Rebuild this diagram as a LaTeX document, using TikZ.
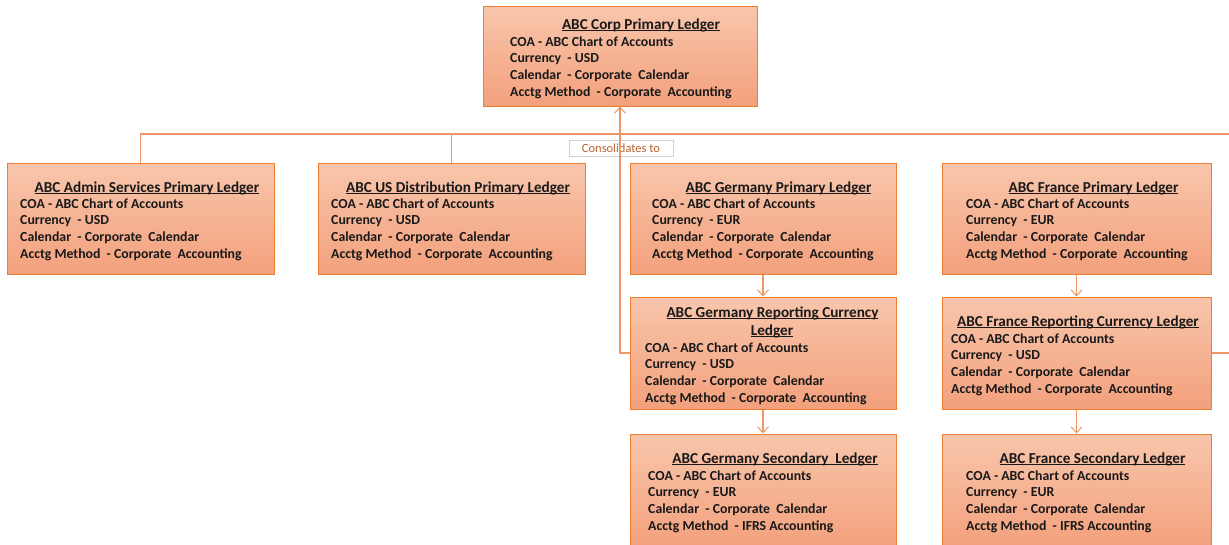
\documentclass[tikz,border=0pt]{standalone}
\usepackage{fontspec}
\setmainfont{Carlito}
\usetikzlibrary{arrows.meta}
\definecolor{bordr}{RGB}{237,125,49}
\definecolor{conn}{RGB}{240,150,100}
\definecolor{ftop}{RGB}{248,198,172}
\definecolor{fbot}{RGB}{243,160,124}
\definecolor{txt}{RGB}{25,25,25}
\definecolor{lbl}{RGB}{185,100,50}
\newlength\ulw
\newcommand\uln[1]{\settowidth\ulw{#1}\rlap{\rule[-1.7pt]{\ulw}{0.9pt}}#1}
\tikzset{
  lbox/.style={draw=bordr, line width=1pt, top color=ftop, bottom color=fbot, inner sep=0pt},
  ttl/.style={font=\fontsize{15.2}{17}\selectfont\bfseries, text=txt, inner sep=0pt, anchor=center},
  btxt/.style={font=\fontsize{13.8}{17}\selectfont\bfseries, text=txt, inner sep=0pt, anchor=west},
  cline/.style={draw=conn, line width=1.2pt},
  carrow/.style={cline, -{Straight Barb[length=6pt,width=11pt,line width=1pt]}},
  lblbox/.style={draw=black!18, fill=white, line width=0.6pt, font=\fontsize{12.5}{14}\selectfont, text=lbl, minimum width=104pt, minimum height=16pt, inner sep=0pt}
}
\newcommand\blines[7]{%
  \node[btxt] (#1-1) at (#2,#3) {#4};
  \node[btxt] (#1-2) at (#2,#3+17) {#5};
  \node[btxt] (#1-3) at (#2,#3+34) {#6};
  \node[btxt] (#1-4) at (#2,#3+51) {#7};
}
\newcommand\lgcal{Calendar\ \ - Corporate\ \ Calendar}
\newcommand\lgacc{Acctg Method\ \ - Corporate\ \ Accounting}
\newcommand\lgifrs{Acctg Method\ \ - IFRS Accounting}
\newcommand\lgcoa{COA - ABC Chart of Accounts}
\begin{document}
\begin{tikzpicture}[x=1pt,y=-1pt]
\useasboundingbox (0,0) rectangle (1229,544);
\clip (0,0) rectangle (1229,544);
\fill[white] (0,0) rectangle (1229,544);
% boxes
\node[lbox, minimum width=274pt, minimum height=100pt] (corp) at (620,56) {};
\node[lbox, minimum width=267pt, minimum height=111pt] (adm) at (140.5,218.5) {};
\node[lbox, minimum width=267pt, minimum height=111pt] (usd) at (451.5,218.5) {};
\node[lbox, minimum width=266pt, minimum height=111pt] (dep) at (763,218.5) {};
\node[lbox, minimum width=269pt, minimum height=111pt] (frp) at (1076.5,218.5) {};
\node[lbox, minimum width=266pt, minimum height=112pt] (der) at (763,353) {};
\node[lbox, minimum width=269pt, minimum height=112pt] (frr) at (1076.5,353) {};
\node[lbox, minimum width=266pt, minimum height=114pt] (des) at (763,491) {};
\node[lbox, minimum width=269pt, minimum height=114pt] (frs) at (1076.5,491) {};
% texts
\node[ttl] (corp-t) at (641,25) {\uln{ABC Corp Primary Ledger}};
\blines{corp}{510}{42}{\lgcoa}{Currency\ \ - USD}{\lgcal}{\lgacc}
\node[ttl] (adm-t) at (147,188) {\uln{ABC Admin Services Primary Ledger}};
\blines{adm}{20}{204}{\lgcoa}{Currency\ \ - USD}{\lgcal}{\lgacc}
\node[ttl] (usd-t) at (458,188) {\uln{ABC US Distribution Primary Ledger}};
\blines{usd}{331}{204}{\lgcoa}{Currency\ \ - USD}{\lgcal}{\lgacc}
\node[ttl] (dep-t) at (778.5,188) {\uln{ABC Germany Primary Ledger}};
\blines{dep}{652}{204}{\lgcoa}{Currency\ \ - EUR}{\lgcal}{\lgacc}
\node[ttl] (frp-t) at (1093.5,188) {\uln{ABC France Primary Ledger}};
\blines{frp}{966}{204}{\lgcoa}{Currency\ \ - EUR}{\lgcal}{\lgacc}
\node[ttl] (der-t) at (772.5,313) {\uln{ABC Germany Reporting Currency}};
\node[ttl] (der-t2) at (772,331) {\uln{Ledger}};
\blines{der}{645}{348}{\lgcoa}{Currency\ \ - USD}{\lgcal}{\lgacc}
\node[ttl] (frr-t) at (1078,322) {\uln{ABC France Reporting Currency Ledger}};
\blines{frr}{951}{339}{\lgcoa}{Currency\ \ - USD}{\lgcal}{\lgacc}
\node[ttl] (des-t) at (775,459) {\uln{ABC Germany Secondary\ \ Ledger}};
\blines{des}{648}{476}{\lgcoa}{Currency\ \ - EUR}{\lgcal}{\lgifrs}
\node[ttl] (frs-t) at (1092.5,459) {\uln{ABC France Secondary Ledger}};
\blines{frs}{966}{476}{\lgcoa}{Currency\ \ - EUR}{\lgcal}{\lgifrs}
% label
\node[lblbox] (cons) at (621,148) {Consolidates to};
% connectors
\coordinate (rt) at (1229,134);
\coordinate (rt2) at (1229,353);
\coordinate (bend) at (620,353);
\draw[cline] (adm.north) |- (rt);
\draw[cline] (usd.north) -- (usd.north |- rt);
\draw[cline] (frr.east) -- (rt2);
\draw[carrow] (der.west) -- (bend) -- (bend |- corp.south);
\draw[carrow] (dep.south) -- (der.north);
\draw[carrow] (der.south) -- (des.north);
\draw[carrow] (frp.south) -- (frr.north);
\draw[carrow] (frr.south) -- (frs.north);
\end{tikzpicture}
\end{document}
